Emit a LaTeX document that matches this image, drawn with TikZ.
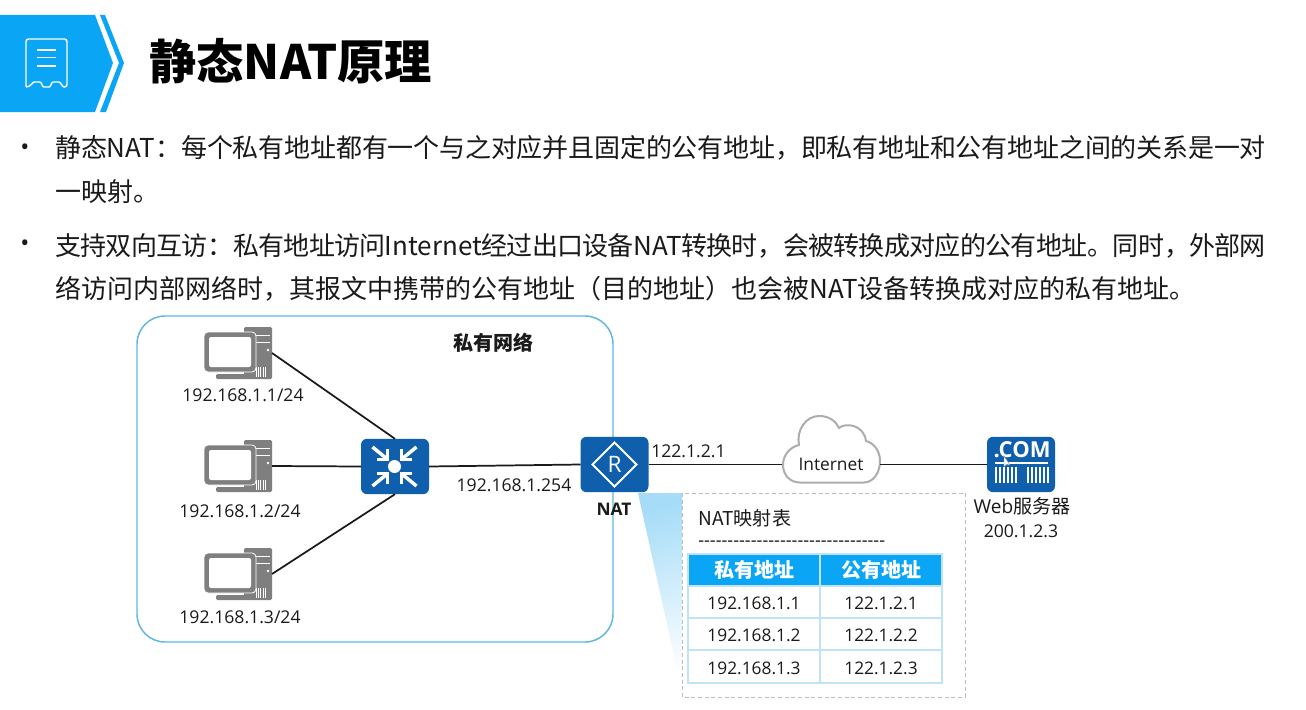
\documentclass[tikz,border=0pt]{standalone}
\usepackage{fontspec}
\setmainfont{Noto Sans CJK SC}
\newfontfamily\lat{Open Sans}
\usetikzlibrary{shadings}
\definecolor{hdrblue}{HTML}{0AA6F5}
\definecolor{devblue}{HTML}{0F5FAD}
\definecolor{boxblue}{HTML}{5FB9DF}
\definecolor{pcgray}{HTML}{7F7F7F}
\definecolor{cellline}{HTML}{BFE4F6}
\definecolor{dashgray}{HTML}{BDBDBD}
\definecolor{ink}{HTML}{1A1A1A}
\definecolor{wedge}{HTML}{A6DCF8}
\newcommand{\fs}[1]{\fontsize{#1}{#1}\selectfont}
\tikzset{
  px/.style={x=0.75pt,y=-0.75pt},
  link/.style={draw=ink,line width=1.3pt},
  device/.style={fill=devblue,rounded corners=4.5pt,inner sep=0pt,outer sep=0pt,minimum width=51pt,minimum height=41.5pt},
  pcbox/.style={inner sep=0pt,outer sep=0pt,minimum width=51pt,minimum height=39pt},
  addr/.style={inner sep=0pt,text=ink,font=\lat\fs{13.2}},
  cellhead/.style={inner sep=0pt,text=white,font=\bfseries\fs{15}},
  cellbody/.style={inner sep=0pt,text=ink,font=\lat\fs{13}},
  body/.style={inner sep=0pt,anchor=north west,text width=908pt,text=ink},
  pics/pcicon/.style={code={
    \fill[pcgray,rounded corners=1pt] (6,-26) rectangle (34,26);
    \fill[pcgray,rounded corners=1pt] (-22,21) rectangle (8,26);
    \fill[white] (18,-18) rectangle (32,-17);
    \fill[white] (18,-11) rectangle (32,-10);
    \fill[white] (30,-3) circle[radius=1.4];
    \foreach \vx in {18,20.2,22.4,24.6,26.8}{\fill[white] (\vx,14) rectangle ++(0.9,10);}
    \filldraw[fill=pcgray,draw=white,line width=0.6pt,rounded corners=3pt] (-34,-21) rectangle (18,19);
    \fill[white,rounded corners=1.5pt] (-29,-16) rectangle (13,14);
  }}
}
\begin{document}
\begin{tikzpicture}[px]
\useasboundingbox (0,0) rectangle (1306,710);
\fill[white] (0,0) rectangle (1306,710);
% header
\fill[hdrblue] (0,15) -- (95,15) -- (113,63) -- (95,112) -- (0,112) -- cycle;
\fill[hdrblue] (100,15) -- (105,15) -- (124,63) -- (106,112) -- (100,112) -- (119,63) -- cycle;
\draw[white,line width=1.1pt,rounded corners=2pt] (26,87) -- (26,39) -- (67,39) -- (67,87)
  .. controls (62,87) and (61,82) .. (56,82) .. controls (51,82) and (51,87) .. (46.5,87)
  .. controls (42,87) and (42,82) .. (37,82) .. controls (32,82) and (31,87) .. (26,87);
\draw[white,line width=1pt] (37,50) -- (56,50) (37,57.5) -- (56,57.5) (37,66) -- (56,66);
\node[inner sep=0pt,anchor=west,font=\bfseries\fs{35.5}] (title) at (149,61) {静态NAT原理};
% bullets
\node[inner sep=0pt,font=\lat\fs{18},text=ink] (b1) at (25,150) {•};
\node[inner sep=0pt,font=\lat\fs{18},text=ink] (b2) at (25,246) {•};
\XeTeXlinebreaklocale "zh"
\XeTeXlinebreakskip=0pt plus 2pt minus 1pt
\node[body] (para1) at (55,135) {\fontsize{19.5}{33}\selectfont\noindent 静态NAT：每个私有地址都有一个与之对应并且固定的公有地址，即私有地址和公有地址之间的关系是一对\linebreak 一映射。\par};
\node[body] (para2) at (55,233) {\fontsize{19.5}{32.3}\selectfont\noindent 支持双向互访：私有地址访问Internet经过出口设备NAT转换时，会被转换成对应的公有地址。同时，外部网\linebreak 络访问内部网络时，其报文中携带的公有地址（目的地址）也会被NAT设备转换成对应的私有地址。\par};
% private network box
\draw[boxblue,line width=1.1pt,rounded corners=21pt] (137,316) rectangle (613,642);
\node[inner sep=0pt,font=\bfseries\fs{15},text=ink] (privlabel) at (493,343) {私有网络};
% callout wedge
\shade[shading=axis,top color=wedge,bottom color=white,shading angle=15] (638,493) -- (682,493) -- (682,692) -- cycle;
% devices
\node[pcbox] (pc1) at (238,353) {}; \pic at (238,353) {pcicon};
\node[pcbox] (pc2) at (238,466) {}; \pic at (238,466) {pcicon};
\node[pcbox] (pc3) at (238,574) {}; \pic at (238,574) {pcicon};
\node[device] (sw) at (395,466.5) {};
\foreach \sx/\sy in {1/1,-1/1,1/-1,-1/-1}{
  \begin{scope}[shift={(394.5,466.5)},xscale=\sx,yscale=\sy]
    \draw[white,line width=2.6pt] (-7,-17.5) -- (-7,-7) -- (-17.5,-7);
    \draw[white,line width=2.6pt] (-8,-8) -- (-22,-19.5);
  \end{scope}
}
\fill[white] (394.5,466.5) circle[radius=6.5];
\node[device] (nat) at (614.5,464.5) {};
\draw[white,line width=1.5pt] (592.5,464.5) -- (614.5,442.5) -- (636.5,464.5) -- (614.5,486.5) -- cycle;
\node[inner sep=0pt,text=white,font=\lat\fs{17}] (rmark) at (614.5,464.5) {R};
\node[device] (web) at (1021,464.5) {};
\node[inner sep=0pt,text=white,font=\lat\bfseries\fs{16.5}] (comtxt) at (1022,450) {.COM};
\draw[white,line width=1pt] (995,463) -- (1048,463);
\foreach \bx in {995,999,1003,1007,1011,1015,1027,1031,1035,1039,1043,1047}{\fill[white] (\bx,467) rectangle ++(1.6,16);}
\fill[white,draw=pcgray,line width=0.3pt] (1004,456) -- (1004,467) -- (1006.5,464.5) -- (1010,465) -- cycle;
% cloud
\node[inner sep=0pt,outer sep=0pt,minimum width=73.5pt,minimum height=50pt] (cloud) at (831,449.5) {};
\filldraw[fill=white,draw=black!32,line width=1.5pt] (800,482.5)
  .. controls (790,482.5) and (783,475) .. (783,465)
  .. controls (783,455) and (790,447) .. (799,445)
  .. controls (796,430) and (806,416) .. (819,416)
  .. controls (829,416) and (836,421) .. (839,428)
  .. controls (846,422) and (864,425) .. (866,441)
  .. controls (874,443) and (880,451) .. (880,461)
  .. controls (880,473) and (873,482.5) .. (864,482.5) -- cycle;
\node[inner sep=0pt,text=ink,font=\lat\fs{13}] (clouds) at (831,464) {Internet};
% connectors
\coordinate (cloudw) at (782,464.5);
\coordinate (cloude) at (880,464.5);
\draw[link] (pc1.east) -- (sw.north);
\draw[link] (pc2.east) -- (sw.west);
\draw[link] (pc3.east) -- (sw.south);
\draw[link] (sw.east) -- (nat.west);
\draw[link] (nat.east) -- (cloudw);
\draw[link] (cloude) -- (web.west);
% labels
\node[addr] (l1) at (243,395) {192.168.1.1/24};
\node[addr] (l2) at (240,511) {192.168.1.2/24};
\node[addr] (l3) at (240,617) {192.168.1.3/24};
\node[addr] (lgw) at (514,485) {192.168.1.254};
\node[addr] (lnat) at (688.5,451) {122.1.2.1};
\node[inner sep=0pt,text=ink,font=\lat\bfseries\fs{13}] (natname) at (614,509) {NAT};
\node[inner sep=0pt,text=ink,font=\fs{14.3}] (webname) at (1022,506) {{\lat Web}服务器};
\node[addr] (webip) at (1021,531) {200.1.2.3};
% callout
\draw[dashgray,line width=0.7pt,densely dashed,fill=white] (682,493) rectangle (965,697);
\node[inner sep=0pt,anchor=west,text=ink,font=\fs{14.3}] (tbltitle) at (698,518) {NAT映射表};
\node[inner sep=0pt,anchor=west,text=ink,font=\lat\fs{13.6}] (tbldash) at (698,544) {--------------------------------};
% table
\fill[hdrblue] (688,554) rectangle (942,586);
\draw[cellline,line width=0.8pt] (688,554) rectangle (942,683)
  (820,554) -- (820,683) (688,586) -- (942,586) (688,618) -- (942,618) (688,650) -- (942,650);
\node[cellhead] (h1) at (754,570) {私有地址};
\node[cellhead] (h2) at (881,570) {公有地址};
\node[cellbody] (a1) at (754,603) {192.168.1.1};
\node[cellbody] (b1x) at (881,603) {122.1.2.1};
\node[cellbody] (a2) at (754,635) {192.168.1.2};
\node[cellbody] (b2x) at (881,635) {122.1.2.2};
\node[cellbody] (a3) at (754,668) {192.168.1.3};
\node[cellbody] (b3x) at (881,668) {122.1.2.3};
\end{tikzpicture}
\end{document}
